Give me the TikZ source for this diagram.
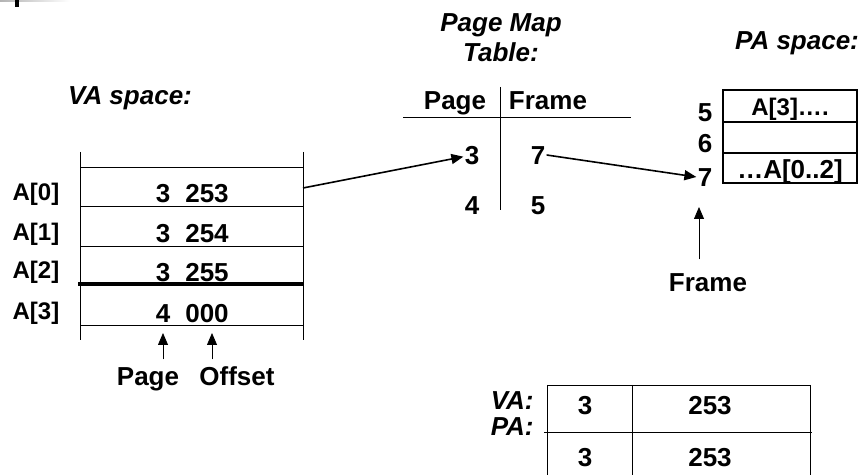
\documentclass[tikz,border=0pt]{standalone}
\usepackage{fontspec}
\setmainfont{Liberation Sans}
\usetikzlibrary{arrows.meta}
\tikzset{
  txt/.style={font=\fontsize{13}{15}\selectfont\bfseries, inner sep=0.5pt, text height=9.3pt, text depth=0pt},
  smalltxt/.style={txt, font=\fontsize{12}{15}\selectfont\bfseries, text height=8.6pt},
  hdr/.style={font=\fontsize{13}{15}\selectfont\bfseries\itshape, inner sep=0pt, align=center},
}
\begin{document}
\begin{tikzpicture}[x=0.5pt,y=-0.5pt, >={Triangle[length=6pt,width=5pt]}]
\useasboundingbox (0,0) rectangle (867,475);
% Randbalken
\shade[left color=gray!60, right color=white] (0,0) rectangle (70,2);
\fill (15,0) rectangle (19,7);
% VA space
\node[hdr] (vahead) at (130,98) {VA space:};
\draw (80,152) -- (80,340);
\draw (303,152) -- (303,340);
\draw (80,167) -- (303,167);
\draw (80,206) -- (303,206);
\draw (80,246) -- (303,246);
\draw[line width=2pt] (78,284) -- (303,284);
\draw (80,325) -- (303,325);
\node[smalltxt] (a0) at (36,192) {A[0]};
\node[smalltxt] (a1) at (36,232) {A[1]};
\node[smalltxt] (a2) at (36,270) {A[2]};
\node[smalltxt] (a3) at (36,311) {A[3]};
\node[txt] (pg0) at (163,193) {3};
\node[txt] (pg1) at (163,233) {3};
\node[txt] (pg2) at (163,272) {3};
\node[txt] (pg3) at (163,313) {4};
\node[txt] (off0) at (207,193) {253};
\node[txt] (off1) at (207,233) {254};
\node[txt] (off2) at (207,272) {255};
\node[txt] (off3) at (207,313) {000};
\coordinate (vaout) at (303,188);
% Page / Offset
\node[txt] (pagelbl) at (148,376) {Page};
\node[txt] (offlbl) at (237,376) {Offset};
\coordinate (pgtip) at (163,333);
\coordinate (offtip) at (212,333);
\draw[->, shorten <=3pt] (pgtip |- pagelbl.north) -- (pgtip);
\draw[->, shorten <=3pt] (offtip |- offlbl.north) -- (offtip);
% Page Map Table
\node[hdr] (pmthead) at (501,38) {Page Map\\Table:};
\node[txt] (pghead) at (455,100) {Page};
\node[txt] (frhead) at (548,100) {Frame};
\draw (403,117) -- (631,117);
\draw (500,87) -- (500,210);
\node[txt] (p3) at (472,155) {3};
\node[txt] (f7) at (538,155) {7};
\node[txt] (p4) at (472,205) {4};
\node[txt] (f5) at (538,205) {5};
% PA space
\node[hdr] (pahead) at (797,43) {PA space:};
\node[txt] (pa5) at (705,112) {5};
\node[txt] (pa6) at (705,143) {6};
\node[txt] (pa7) at (705,177) {7};
\draw[semithick] (723,90) rectangle (857,183);
\draw[semithick] (723,122) -- (857,122);
\draw[semithick] (723,153) -- (857,153);
\node[smalltxt] (frm5) at (790,107) {A[3]….};
\node[txt] (frm7) at (790,169) {…A[0..2]};
\node[txt] (frlbl) at (708,282) {Frame};
\coordinate (frtip) at (699,207);
\draw[->, shorten <=6pt] (frtip |- frlbl.north) -- (frtip);
% Pfeile
\draw[->, thick] (vaout) -- (p3);
\draw[->, thick] (f7.east) -- (pa7.west);
% VA / PA
\draw (547,385) -- (810,385);
\draw (544,432) -- (812,432);
\draw (547,385) -- (547,475);
\draw (632,385) -- (632,475);
\draw (810,385) -- (810,475);
\node[hdr, anchor=east, text height=9.3pt, text depth=0pt] (valbl) at (534,400) {VA:};
\node[hdr, anchor=east, text height=9.3pt, text depth=0pt] (palbl) at (534,426) {PA:};
\node[txt] (vapage) at (585,405) {3};
\node[txt] (vaoff) at (710,405) {253};
\node[txt] (papage) at (585,457) {3};
\node[txt] (paoff) at (710,457) {253};
\end{tikzpicture}
\end{document}
